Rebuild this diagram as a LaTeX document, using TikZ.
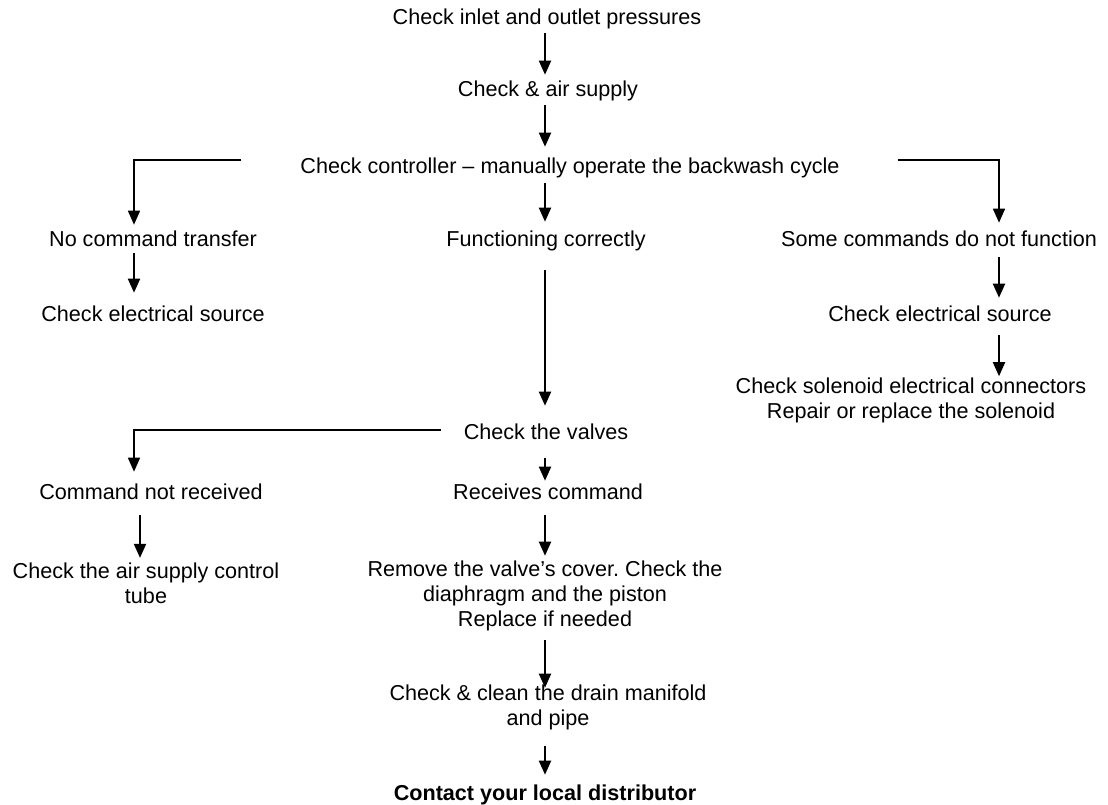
\documentclass[tikz,border=0pt]{standalone}
\usepackage{fontspec}
\setmainfont{Liberation Sans}
\usetikzlibrary{arrows.meta,calc}
\frenchspacing
\begin{document}
\begin{tikzpicture}[x=1pt,y=-1pt,
  lbl/.style={inner sep=0pt, font=\fontsize{21.6}{25}\selectfont, align=center},
  one/.style={lbl, text height=15.7pt, text depth=4.5pt},
  arr/.style={line width=1.9pt, -{Triangle[width=12pt,length=14pt]}},
  brk/.style={line width=1.5pt, -{Triangle[width=12pt,length=14pt]}}]
\useasboundingbox (0,0) rectangle (1108,805);
\coordinate (xm) at (545,0);
\coordinate (cl) at (134,0);
\coordinate (cl2) at (140,0);
\coordinate (cr) at (999,0);
% nodes
\node[one] (t1) at (547,19) {Check inlet and outlet pressures};
\node[one] (t2) at (548,91) {Check \& air supply};
\node[one] (t3) at (570,168) {Check controller -- manually operate the backwash cycle};
\node[one] (nct) at (153,241) {No command transfer};
\node[one] (fc) at (546,241) {Functioning correctly};
\node[one] (scf) at (939,241) {Some commands do not function};
\node[one] (ces1) at (153,316) {Check electrical source};
\node[one] (ces2) at (940,316) {Check electrical source};
\node[lbl] (scc) at (911,400) {Check solenoid electrical connectors\\Repair or replace the solenoid};
\node[one] (valves) at (546,434) {Check the valves};
\node[one] (cnr) at (151,494) {Command not received};
\node[one] (rc) at (548,494) {Receives command};
\node[lbl] (acs) at (146,583.5) {Check the air supply control\\tube};
\node[lbl] (rvc) at (545,596) {Remove the valve’s cover. Check the\\diaphragm and the piston\\Replace if needed};
\node[lbl] (drain) at (548,707.5) {Check \& clean the drain manifold\\and pipe};
\node[one,font=\fontsize{21.6}{25}\selectfont\bfseries] (fin) at (545,795) {Contact your local distributor};
% connectors
\draw[arr,shorten <=4pt,shorten >=6pt] (t1.south -| xm) -- (t2.north -| xm);
\draw[arr,shorten <=4pt,shorten >=11pt] (t2.south -| xm) -- (t3.north -| xm);
\draw[arr,shorten <=5pt,shorten >=9pt] (t3.south -| xm) -- (fc.north -| xm);
\draw[brk] ($(t3.west)+(-59,-8)$) -| ($(nct.north -| cl)+(0,-6)$);
\draw[brk] ($(t3.east)+(58,-8)$) -| ($(scf.north -| cr)+(0,-8)$);
\draw[arr,shorten <=2pt,shorten >=13pt] (nct.south -| cl) -- (ces1.north -| cl);
\draw[arr,shorten <=6pt,shorten >=8pt] (scf.south -| cr) -- (ces2.north -| cr);
\draw[arr,shorten <=9pt,shorten >=1pt] (ces2.south -| cr) -- (scc.north -| cr);
\draw[arr,shorten <=19pt,shorten >=18pt] (fc.south -| xm) -- (valves.north -| xm);
\draw[brk] ($(valves.west)+(-23,-4)$) -| ($(cnr.north -| cl)+(0,-12)$);
\draw[arr,shorten <=14pt,shorten >=3pt] (valves.south -| xm) -- (rc.north -| xm);
\draw[arr,shorten <=11pt,shorten >=5pt] (cnr.south -| cl2) -- (acs.north -| cl2);
\draw[arr,shorten <=11pt,shorten >=5pt] (rc.south -| xm) -- (rvc.north -| xm);
\draw[arr,shorten <=9pt,shorten >=-3pt] (rvc.south -| xm) -- (drain.north -| xm);
\draw[arr,shorten <=16pt,shorten >=10pt] (drain.south -| xm) -- (fin.north -| xm);
\end{tikzpicture}
\end{document}
